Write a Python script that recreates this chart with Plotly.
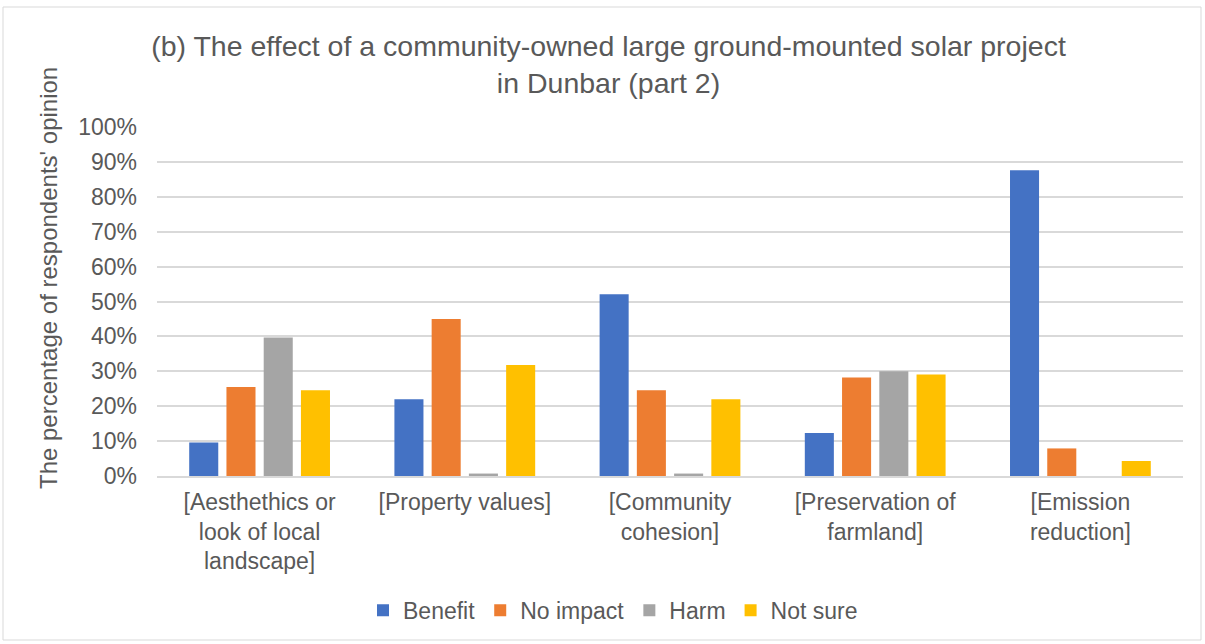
import plotly.graph_objects as go

categories = [
    "[Aesthethics or<br>look of local<br>landscape]",
    "[Property values]",
    "[Community<br>cohesion]",
    "[Preservation of<br>farmland]",
    "[Emission<br>reduction]",
]
benefit = [9.6, 22.0, 52.1, 12.3, 87.6]
no_impact = [25.5, 45.0, 24.6, 28.2, 7.9]
harm = [39.7, 0.7, 0.7, 30.0, 0.0]
not_sure = [24.6, 31.8, 22.0, 29.1, 4.3]

series = [
    ("Benefit", benefit, "#4472C4"),
    ("No impact", no_impact, "#ED7D31"),
    ("Harm", harm, "#A5A5A5"),
    ("Not sure", not_sure, "#FFC000"),
]

FONT = "Liberation Sans, Arial, sans-serif"
GREY = "#595959"

fig = go.Figure()
for name, vals, color in series:
    fig.add_trace(go.Bar(
        name=name, x=categories, y=vals,
        marker=dict(color=color, line=dict(width=0)),
    ))

fig.update_layout(
    width=1205, height=644,
    margin=dict(l=157, r=22, t=127, b=168),
    paper_bgcolor="white", plot_bgcolor="white",
    barmode="group", bargap=0.274, bargroupgap=0.22,
    font=dict(family=FONT, color=GREY, size=23),
    title=dict(
        text="(b) The effect of a community-owned large ground-mounted solar project<br>in Dunbar (part 2)",
        x=0.505, xanchor="center", y=(644 - 56) / 644, yanchor="middle",
        font=dict(family=FONT, size=28.5, color=GREY),
    ),
    showlegend=True,
    legend=dict(
        orientation="h", x=(613 - 157) / 1026, xanchor="center",
        y=-0.385, yanchor="middle",
        font=dict(family=FONT, size=23, color=GREY),
        traceorder="normal", itemwidth=30,
    ),
    xaxis=dict(
        showgrid=False, showline=True, linecolor="#D9D9D9", linewidth=2,
        ticks="", ticklabelstandoff=4,
        tickfont=dict(family=FONT, size=23, color=GREY),
    ),
    yaxis=dict(
        range=[0, 100], dtick=10, ticksuffix="%",
        showgrid=True, gridcolor="#D9D9D9", gridwidth=1.5,
        zeroline=False, showline=False, ticks="", ticklabelstandoff=19,
        tickfont=dict(family=FONT, size=23, color=GREY),
    ),
    annotations=[dict(
        text="The percentage of respondents' opinion",
        xref="paper", yref="paper",
        x=(48 - 157) / 1026, y=(476 - 278) / 349,
        xanchor="center", yanchor="middle", textangle=-90, showarrow=False,
        font=dict(family=FONT, size=24, color=GREY),
    )],
    shapes=[dict(
        type="rect", xref="paper", yref="paper",
        x0=(3 - 157) / 1026, x1=(1201 - 157) / 1026,
        y0=(476 - 640) / 349, y1=(476 - 7) / 349,
        line=dict(color="#D9D9D9", width=1), layer="below",
    )],
)

fig.write_html("out.html")
